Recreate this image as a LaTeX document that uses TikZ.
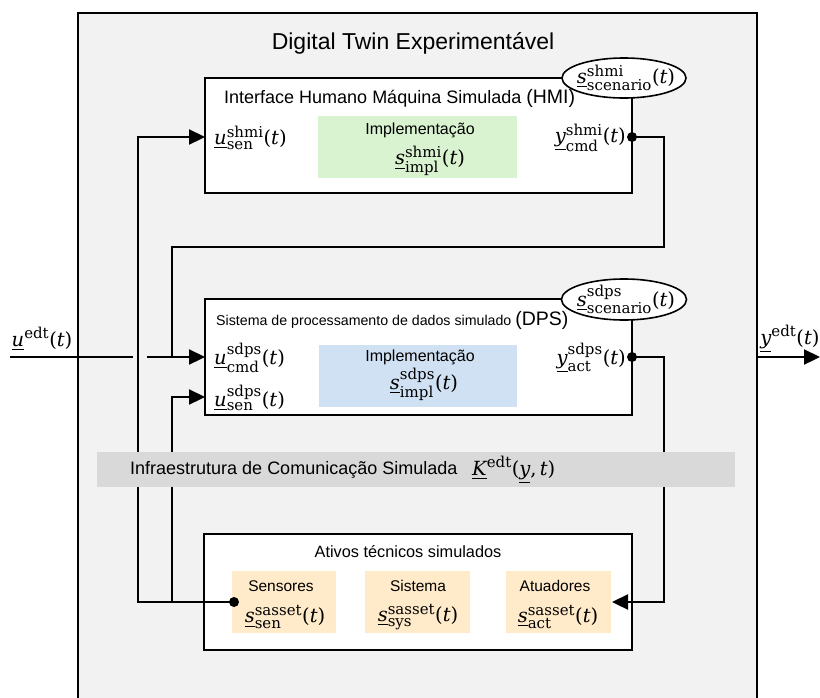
\RequirePackage{fix-cm}
\documentclass[tikz,border=0pt]{standalone}
\usepackage{amsmath}
\usepackage[no-math]{fontspec}
\setmainfont{Liberation Sans}
\newfontfamily\dvfont{DejaVu Serif}
\usetikzlibrary{arrows.meta,shapes.geometric}
\DeclareMathSizes{19.5}{19.5}{15}{11}

% signal symbols: underlined italic letter, upright serif scripts
\newcommand\dvit[1]{\text{\dvfont\itshape #1}}
\newcommand\dvrm[1]{\text{\dvfont\upshape #1}}
\newcommand\sgl[3]{$\underline{\dvit{#1}}^{\dvrm{#2}}_{\dvrm{#3}}\dvrm{(}\dvit{t}\dvrm{)}$}

\definecolor{framegray}{HTML}{F2F2F2}
\definecolor{bargray}{HTML}{D9D9D9}
\definecolor{implgreen}{HTML}{D9F2D0}
\definecolor{implblue}{HTML}{D0E1F3}
\definecolor{assetorange}{HTML}{FFEBCA}

\tikzset{
  blockbox/.style={draw=black, line width=1.7pt, fill=white, rectangle, inner sep=0pt},
  fillbox/.style={rectangle, inner sep=0pt, minimum height=62pt},
  scenario/.style={ellipse, draw=black, line width=1.6pt, fill=white, inner sep=0pt,
    minimum width=124pt, minimum height=40pt},
  sig/.style={line width=2.3pt, black},
  arr/.style={-{Triangle[length=16pt,width=15pt]}},
  portdot/.style={circle, fill=black, inner sep=0pt, minimum size=10pt},
  mlabel/.style={inner sep=0pt, font=\fontsize{19.5}{22}\selectfont},
  txtA/.style={inner sep=0pt, font=\fontsize{16}{19}\selectfont},
  txtB/.style={inner sep=0pt, font=\fontsize{15.5}{18}\selectfont},
}

\begin{document}
\begin{tikzpicture}[x=1pt,y=-1pt]
\useasboundingbox (0,0) rectangle (820,697);
\clip (0,0) rectangle (820,697);

% experimental digital twin frame (open at the bottom of the page)
\draw[line width=2.6pt, fill=framegray] (78,712) -- (78,13) -- (757,13) -- (757,712);
\node[inner sep=0pt, font=\fontsize{23}{27}\selectfont] (title) at (413,43) {Digital Twin Experimentável};

% simulated HMI
\node[blockbox, minimum width=427pt, minimum height=115pt] (hmi) at (418.5,135.5) {};
\node[inner sep=0pt, anchor=west, font=\fontsize{18}{21}\selectfont] (hmititle) at (224,98)
  {Interface Humano Máquina Simulada {\fontsize{19.5}{22}\selectfont(HMI)}};
\node[fillbox, fill=implgreen, minimum width=199pt] (hmiimpl) at (417.5,147) {};
\node[txtA] (hmiimpltxt) at (420,130) {Implementação};
\node[mlabel] (hmiimplf) at (430,161) {\sgl{s}{shmi}{impl}};
\node[mlabel, anchor=west] (hmiusen) at (214,138) {\sgl{u}{shmi}{sen}};
\node[mlabel, anchor=east] (hmiycmd) at (626,138) {\sgl{y}{shmi}{cmd}};
\node[scenario] (hmiscn) at (624,78) {};
\node[mlabel] (hmiscntxt) at (626,78) {\sgl{s}{shmi}{scenario}};

% simulated data processing system
\node[blockbox, minimum width=427pt, minimum height=116pt] (dps) at (418.5,357) {};
\node[inner sep=0pt, anchor=west, font=\fontsize{14.2}{17}\selectfont] (dpstitle) at (216,320)
  {Sistema de processamento de dados simulado {\fontsize{19.5}{22}\selectfont(DPS)}};
\node[fillbox, fill=implblue, minimum width=198pt] (dpsimpl) at (418,376) {};
\node[txtA] (dpsimpltxt) at (420,357) {Implementação};
\node[mlabel] (dpsimplf) at (424,384) {\sgl{s}{sdps}{impl}};
\node[mlabel, anchor=west] (dpsucmd) at (214,358) {\sgl{u}{sdps}{cmd}};
\node[mlabel, anchor=west] (dpsusen) at (214,398) {\sgl{u}{sdps}{sen}};
\node[mlabel, anchor=east] (dpsyact) at (626,358) {\sgl{y}{sdps}{act}};
\node[scenario, minimum width=125pt, minimum height=41pt] (dpsscn) at (624,299.5) {};
\node[mlabel] (dpsscntxt) at (626,299.5) {\sgl{s}{sdps}{scenario}};

% simulated technical assets
\node[blockbox, minimum width=428pt, minimum height=116pt] (assets) at (418,592) {};
\node[inner sep=0pt, font=\fontsize{16.3}{19}\selectfont] (assetstitle) at (408,552) {Ativos técnicos simulados};
\node[fillbox, fill=assetorange, minimum width=104pt] (sens) at (284,602) {};
\node[fillbox, fill=assetorange, minimum width=105pt] (sys) at (417.5,602) {};
\node[fillbox, fill=assetorange, minimum width=105pt] (act) at (558.5,602) {};
\node[txtB] (senstxt) at (281,586) {Sensores};
\node[txtB] (systxt) at (418,586) {Sistema};
\node[txtB] (acttxt) at (555,586) {Atuadores};
\node[mlabel] (sensf) at (285,617) {\sgl{s}{sasset}{sen}};
\node[mlabel] (sysf) at (418,617) {\sgl{s}{sasset}{sys}};
\node[mlabel] (actf) at (558,617) {\sgl{s}{sasset}{act}};

% external signals
\node[mlabel] (uedt) at (42,339) {$\underline{\dvit{u}}^{\dvrm{edt}}\dvrm{(}\dvit{t}\dvrm{)}$};
\node[mlabel] (yedt) at (790,339) {$\underline{\dvit{y}}^{\dvrm{edt}}\dvrm{(}\dvit{t}\dvrm{)}$};

% ports and bends
\coordinate (hmisen) at (205,137);
\coordinate (hmicmd) at (632,137);
\coordinate (dpscmd) at (205,357);
\coordinate (dpssen) at (205,397);
\coordinate (dpsact) at (632,357);
\coordinate (sensport) at (234,602);
\coordinate (actport) at (612,602);
\coordinate (uin) at (10,357);
\coordinate (hopL) at (133,357);
\coordinate (hopR) at (147,357);
\coordinate (cmdjoin) at (172,357);
\coordinate (frameR) at (757,357);
\coordinate (yout) at (820,357);
\coordinate (bendA) at (664,247);
\coordinate (bendB) at (172,247);
\coordinate (bendD) at (138,602);
\coordinate (bendE) at (172,602);
\coordinate (bendF) at (664,602);

% connectors
\draw[sig, arr] (hmicmd) -| (bendA) -- (bendB) |- (dpscmd);
\draw[sig] (uin) -- (hopL);
\draw[sig] (hopR) -- (cmdjoin);
\draw[sig, arr] (sensport) -- (bendD) |- (hmisen);
\draw[sig, arr] (bendE) |- (dpssen);
\draw[sig, arr] (dpsact) -| (bendF) -- (actport);
\draw[sig, arr] (frameR) -- (yout);

\node[portdot] (hmicmddot) at (hmicmd) {};
\node[portdot] (dpsactdot) at (dpsact) {};
\node[portdot] (sensdot) at (sensport) {};

% simulated communication infrastructure
\node[rectangle, fill=bargray, inner sep=0pt, minimum width=638pt, minimum height=35pt] (infra) at (416,469.5) {};
\node[inner sep=0pt, anchor=west, font=\fontsize{18}{21}\selectfont] (infratxt) at (130,470)
  {Infraestrutura de Comunicação Simulada};
\node[mlabel, anchor=west] (infraf) at (472,470)
  {$\underline{\dvit{K}}^{\dvrm{edt}}\dvrm{(}\underline{\dvit{y}}\dvrm{,}\,\dvit{t}\dvrm{)}$};
\end{tikzpicture}
\end{document}
